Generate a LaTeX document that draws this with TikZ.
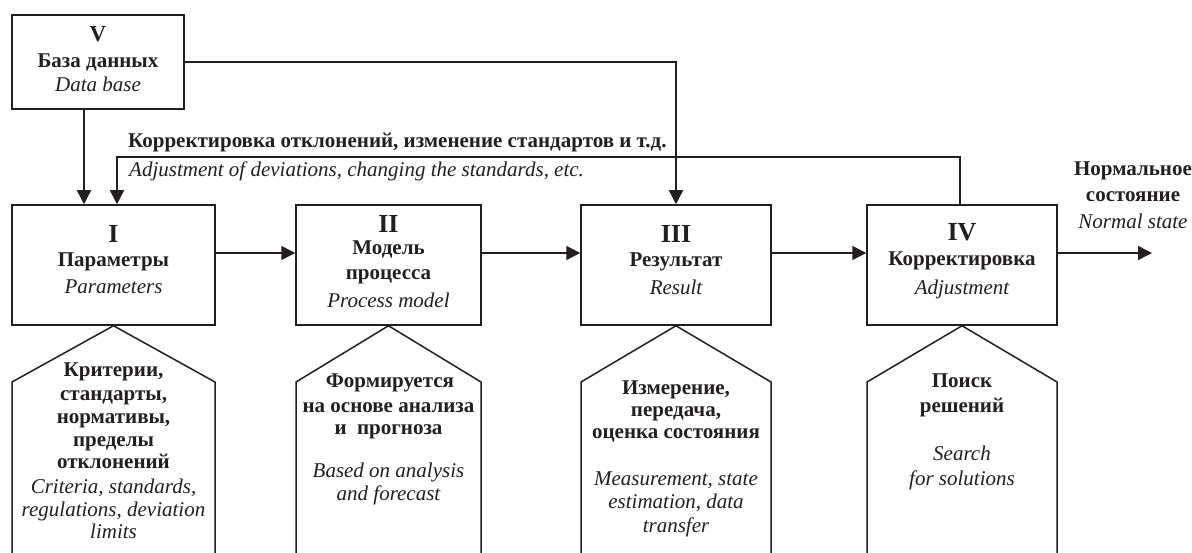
\documentclass[tikz,border=0pt]{standalone}
\usepackage{fontspec}
\setmainfont{Liberation Serif}
\usetikzlibrary{arrows.meta}
\definecolor{ink}{RGB}{35,31,32}
\begin{document}
\begin{tikzpicture}[x=1pt,y=-1pt,
  box/.style={draw=ink, line width=1.5pt, rectangle, inner sep=0pt},
  pent/.style={draw=ink, line width=1.5pt, line join=miter},
  conn/.style={draw=ink, line width=1.5pt},
  arr/.style={conn, -{Triangle[length=14pt,width=14pt]}},
  bt/.style={anchor=base, inner sep=0pt, text=ink, font=\bfseries\fontsize{21}{25}\selectfont},
  it/.style={anchor=base, inner sep=0pt, text=ink, font=\itshape\fontsize{21}{25}\selectfont},
  num/.style={anchor=base, inner sep=0pt, text=ink, font=\bfseries\fontsize{26}{30}\selectfont},
  numv/.style={anchor=base, inner sep=0pt, text=ink, font=\bfseries\fontsize{23}{26}\selectfont}]
\useasboundingbox (0,0) rectangle (1192,553);
\fill[white] (0,0) rectangle (1192,553);

% boxes
\node[box, minimum width=172pt, minimum height=94pt] (b5) at (98,62) {};
\node[box, minimum width=203pt, minimum height=120pt] (b1) at (113.5,265) {};
\node[box, minimum width=185pt, minimum height=120pt] (b2) at (388.5,265) {};
\node[box, minimum width=190pt, minimum height=120pt] (b3) at (676,265) {};
\node[box, minimum width=190pt, minimum height=120pt] (b4) at (962,265) {};

% box texts
\node[numv] (v0) at (98,42) {V};
\node[bt] (v1) at (98,68) {База данных};
\node[it] (v2) at (98,92) {Data base};

\node[num] (i0) at (113.5,243) {I};
\node[bt] (i1) at (113.5,267) {Параметры};
\node[it] (i2) at (113.5,294) {Parameters};

\node[num] (ii0) at (388.5,233) {II};
\node[bt] (ii1) at (388.5,255) {Модель};
\node[bt] (ii2) at (388.5,280) {процесса};
\node[it] (ii3) at (388.5,308) {Process model};

\node[num] (iii0) at (676,243) {III};
\node[bt] (iii1) at (676,267) {Результат};
\node[it] (iii2) at (676,295) {Result};

\node[num] (iv0) at (962,241) {IV};
\node[bt] (iv1) at (962,266) {Корректировка};
\node[it] (iv2) at (962,295) {Adjustment};

% pentagons
\draw[pent] (12,554) -- (12,382) -- (b1.south) -- (215,382) -- (215,554);
\draw[pent] (296,554) -- (296,382) -- (b2.south) -- (481,382) -- (481,554);
\draw[pent] (581,554) -- (581,382) -- (b3.south) -- (771,382) -- (771,554);
\draw[pent] (867,554) -- (867,382) -- (b4.south) -- (1057,382) -- (1057,554);

% pentagon texts
\node[bt] (p1a) at (113.5,377) {Критерии,};
\node[bt] (p1b) at (113.5,400) {стандарты,};
\node[bt] (p1c) at (113.5,423) {нормативы,};
\node[bt] (p1d) at (113.5,446) {пределы};
\node[bt] (p1e) at (113.5,468) {отклонений};
\node[it] (p1f) at (113.5,493) {Criteria, standards,};
\node[it] (p1g) at (113.5,516) {regulations, deviation};
\node[it] (p1h) at (113.5,538) {limits};

\node[bt] (p2a) at (390,388) {Формируется};
\node[bt] (p2b) at (388.5,412) {на основе анализа};
\node[bt] (p2c) at (388.5,435) {и\ \ прогноза};
\node[it] (p2d) at (388.5,477) {Based on analysis};
\node[it] (p2e) at (388.5,500) {and forecast};

\node[bt] (p3a) at (676,395) {Измерение,};
\node[bt] (p3b) at (676,417) {передача,};
\node[bt] (p3c) at (676,438) {оценка состояния};
\node[it] (p3d) at (676,485) {Measurement, state};
\node[it] (p3e) at (676,508) {estimation, data};
\node[it] (p3f) at (676,532) {transfer};

\node[bt] (p4a) at (962,388) {Поиск};
\node[bt] (p4b) at (962,413) {решений};
\node[it] (p4c) at (962,460) {Search};
\node[it] (p4d) at (962,485) {for solutions};

% right label
\node[bt] (n1) at (1133,176) {Нормальное};
\node[bt] (n2) at (1133,202) {состояние};
\node[it] (n3) at (1133,229) {Normal state};

% feedback label
\node[bt, anchor=base west] (f1) at (128,148) {Корректировка отклонений, изменение стандартов и т.д.};
\node[it, anchor=base west] (f2) at (129,177) {Adjustment of deviations, changing the standards, etc.};

% connectors
\draw[arr] (b5.east) -- (b3.north |- b5.east) -- (b3.north);
\draw[arr] ([xshift=-14pt]b5.south) -- ([xshift=-14pt]b5.south |- b1.north);
\draw[arr] ([xshift=-2pt]b4.north) -- ++(0,-47) -| ([xshift=3.5pt]b1.north);
\draw[arr] ([yshift=12pt]b1.east) -- ([yshift=12pt]b2.west);
\draw[arr] ([yshift=12pt]b2.east) -- ([yshift=12pt]b3.west);
\draw[arr] ([yshift=12pt]b3.east) -- ([yshift=12pt]b4.west);
\coordinate (out) at (1152,253);
\draw[arr] ([yshift=12pt]b4.east) -- (out);
\end{tikzpicture}
\end{document}
